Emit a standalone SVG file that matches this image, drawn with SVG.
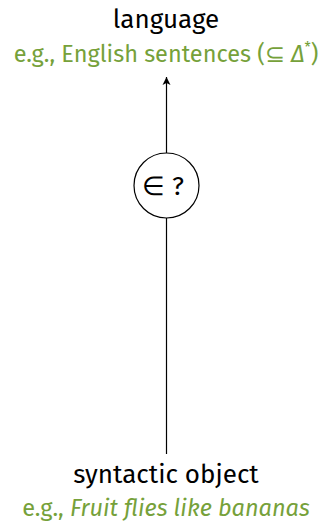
<svg xmlns="http://www.w3.org/2000/svg" width="324" height="522" viewBox="0 0 324 522">
<style>
.t{font-family:"Fira Sans","Open Sans","Noto Sans",sans-serif;text-anchor:middle}
.main{font-size:26px;fill:#000}
.sub{font-size:23.5px;fill:#76a13a}
.edge{stroke:#000;stroke-width:1.2;fill:none}
</style>
<defs>
<marker id="ah" markerWidth="10" markerHeight="10" refX="8" refY="5" orient="auto" markerUnits="userSpaceOnUse">
<path d="M0,1 L8,5 L0,9 L2,5 Z" fill="#000"/>
</marker>
</defs>
<g id="connectors">
<line class="edge" x1="166.5" y1="454" x2="166.5" y2="218"/>
<line class="edge" x1="166.5" y1="153" x2="166.5" y2="77" marker-end="url(#ah)"/>
</g>
<g id="language">
<text class="t main" x="166" y="28">language</text>
<text class="t sub" x="166" y="62">e.g., English sentences (⊆ <tspan font-style="italic">Δ</tspan><tspan font-size="14" dy="-10">*</tspan><tspan dy="10">)</tspan></text>
</g>
<g id="test">
<circle cx="166.5" cy="185.5" r="32.5" fill="#fff" stroke="#000" stroke-width="1.2"/>
<text class="t main" x="163" y="195">∈ ?</text>
</g>
<g id="syntactic">
<text class="t main" x="166" y="483">syntactic object</text>
<text class="t sub" x="166" y="516">e.g., <tspan font-style="italic">Fruit flies like bananas</tspan></text>
</g>
</svg>
